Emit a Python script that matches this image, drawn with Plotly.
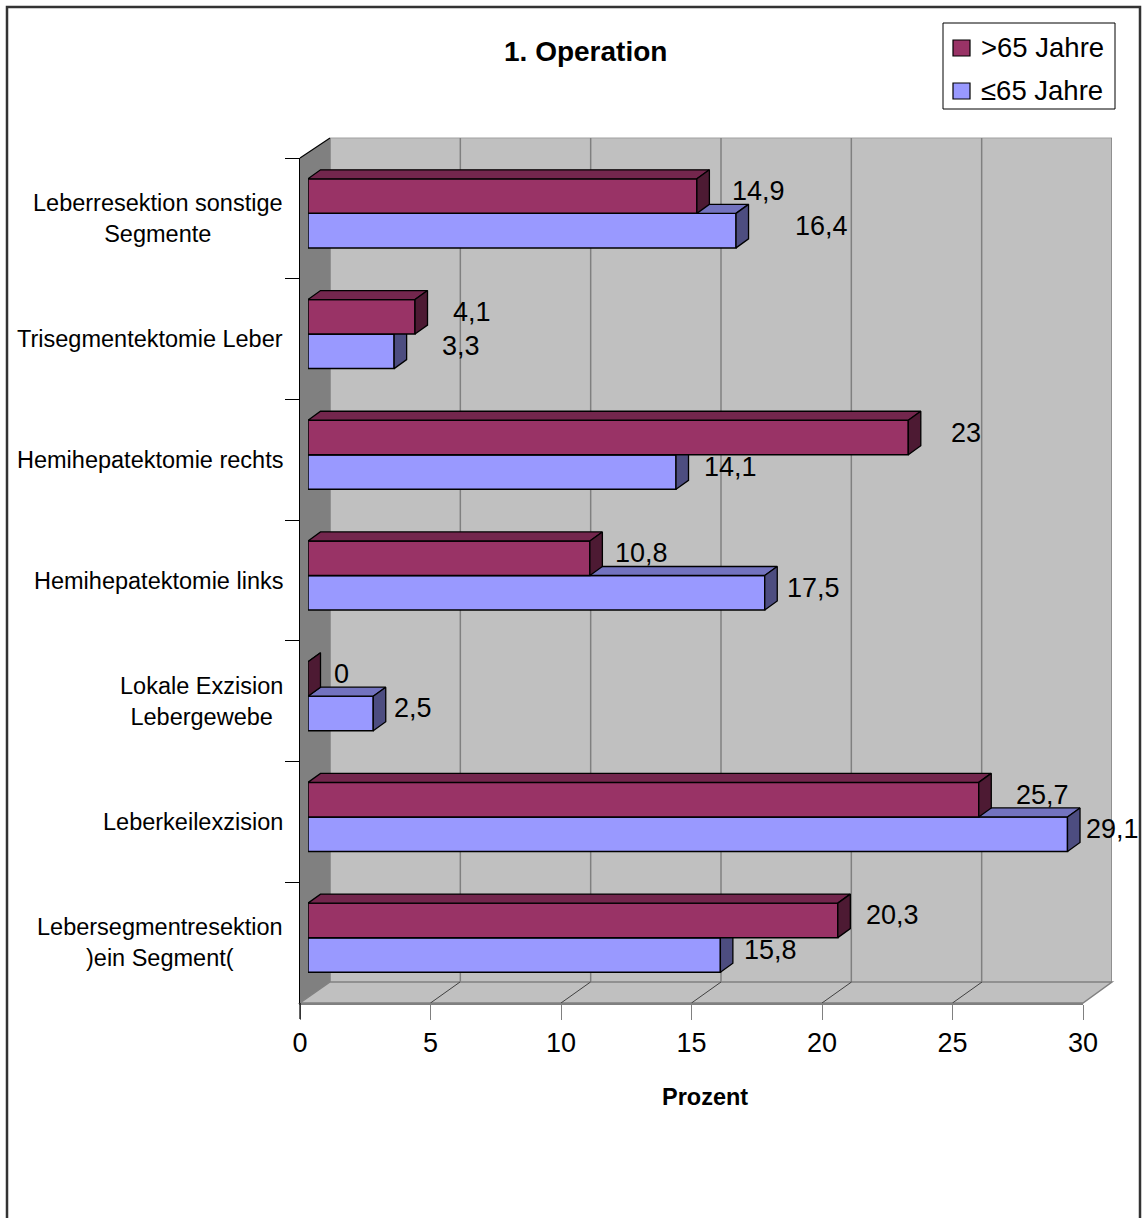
import plotly.graph_objects as go

# ---- data -------------------------------------------------------------
categories = [
    "Leberresektion sonstige<br>Segmente",
    "Trisegmentektomie Leber",
    "Hemihepatektomie rechts",
    "Hemihepatektomie links",
    "Lokale Exzision<br>Lebergewebe",
    "Leberkeilexzision",
    "Lebersegmentresektion<br>)ein Segment(",
]
over_65 = [14.9, 4.1, 23, 10.8, 0, 25.7, 20.3]
upto_65 = [16.4, 3.3, 14.1, 17.5, 2.5, 29.1, 15.8]
series_names = [">65 Jahre", "≤65 Jahre"]
x_ticks = [0, 5, 10, 15, 20, 25, 30]

# label offsets (px right of each bar end)
over_nudge = [33, 36, 41, 23, 24, 35, 26]
upto_nudge = [57, 46, 26, 20, 19, 16, 22]

# ---- styling / geometry ----------------------------------------------
W, H = 1145, 1218
FONT = "Liberation Sans, Arial, sans-serif"
MAROON, MAROON_TOP, MAROON_SIDE = "#993366", "#73264D", "#4D1A33"
LAV, LAV_TOP, LAV_SIDE = "#9999FF", "#7373BF", "#4D4D80"
WALL, WALL_DARK, GRID = "#C0C0C0", "#808080", "#808080"


def fx(p):
    return p / W


def fy(p):
    return 1 - p / H


rows = list(range(len(categories)))
BAR_H = 0.286          # bar thickness in row units
DX = 12.5 / 26.1       # bar depth, horizontal (value units)
DZ = 9 / 120.7         # bar depth, vertical (row units)


def fmt(v):
    return f"{v:g}".replace(".", ",")


def faces(values, upper, axis_x, axis_y, top_col, side_col):
    """Top and side faces of the 3D bars as filled polygons."""
    tx, ty, sx, sy = [], [], [], []
    for i, v in zip(rows, values):
        top = i - BAR_H if upper else i
        bot = i if upper else i + BAR_H
        tx += [0, v, v + DX, DX, 0, None]
        ty += [top, top, top - DZ, top - DZ, top, None]
        sx += [v, v + DX, v + DX, v, v, None]
        sy += [top, top - DZ, bot - DZ, bot, top, None]
    out = []
    for xs, ys, col in ((tx, ty, top_col), (sx, sy, side_col)):
        out.append(go.Scatter(
            x=xs, y=ys, mode="lines", fill="toself", fillcolor=col,
            line=dict(color="black", width=1.3), xaxis=axis_x, yaxis=axis_y,
            hoverinfo="skip", showlegend=False))
    return out


fig = go.Figure()

# invisible trace registering the category axis
fig.add_trace(go.Scatter(x=[0] * len(categories), y=categories, mode="markers",
                         marker=dict(opacity=0), hoverinfo="skip",
                         showlegend=False, xaxis="x", yaxis="y"))

# ≤65 series (drawn first, sits below)
fig.add_trace(go.Bar(y=rows, x=upto_65, orientation="h", base=0,
                     offset=0, width=BAR_H, name=series_names[1],
                     marker=dict(color=LAV, line=dict(color="black", width=1.5)),
                     xaxis="x2", yaxis="y2", showlegend=False))
for tr in faces(upto_65, False, "x2", "y2", LAV_TOP, LAV_SIDE):
    fig.add_trace(tr)

# >65 series on the overlaid axes so it is painted above
fig.add_trace(go.Bar(y=rows, x=over_65, orientation="h", base=0,
                     offset=-BAR_H, width=BAR_H, name=series_names[0],
                     marker=dict(color=MAROON, line=dict(color="black", width=1.5)),
                     xaxis="x4", yaxis="y4", showlegend=False))
for tr in faces(over_65, True, "x4", "y4", MAROON_TOP, MAROON_SIDE):
    fig.add_trace(tr)

# ---- value labels -----------------------------------------------------
ann = []
for i in rows:
    ann.append(dict(x=over_65[i], y=i - BAR_H / 2, xref="x2", yref="y2",
                    text=fmt(over_65[i]), showarrow=False, xanchor="left",
                    yanchor="middle", xshift=over_nudge[i], yshift=5,
                    font=dict(size=27, color="black", family=FONT)))
    ann.append(dict(x=upto_65[i], y=i + BAR_H / 2, xref="x2", yref="y2",
                    text=fmt(upto_65[i]), showarrow=False, xanchor="left",
                    yanchor="middle", xshift=upto_nudge[i], yshift=5,
                    font=dict(size=27, color="black", family=FONT)))

# category labels, centred lines, right edge beside the axis
for i, c in enumerate(categories):
    ann.append(dict(x=fx(285), y=i, xref="paper", yref="y", text=c,
                    showarrow=False, xanchor="right", yanchor="middle",
                    align="center", font=dict(size=23.5, color="black", family=FONT)))

ann.append(dict(x=fx(585), y=fy(52), xref="paper", yref="paper",
                text="<b>1. Operation</b>", showarrow=False,
                xanchor="center", yanchor="middle",
                font=dict(size=28, color="black", family=FONT)))
ann.append(dict(x=fx(705), y=fy(1097), xref="paper", yref="paper",
                text="<b>Prozent</b>", showarrow=False,
                xanchor="center", yanchor="middle",
                font=dict(size=23.5, color="black", family=FONT)))

# legend entries
for name, col, yc in ((series_names[0], MAROON, 48), (series_names[1], LAV, 91)):
    ann.append(dict(x=fx(979), y=fy(yc), xref="paper", yref="paper",
                    text=name, showarrow=False, xanchor="left", yanchor="middle",
                    font=dict(size=27.5, color="black", family=FONT)))

# ---- walls, floor, grid ----------------------------------------------
def path(pts):
    return "M" + " L".join(f"{fx(a)},{fy(b)}" for a, b in pts) + " Z"


shapes = [
    dict(type="rect", xref="paper", yref="paper", x0=fx(330), x1=fx(1112),
         y0=fy(982), y1=fy(138), fillcolor=WALL, line=dict(width=0), layer="below"),
    dict(type="path", xref="paper", yref="paper",
         path=path([(300, 158), (330, 138), (330, 982), (300, 1003)]),
         fillcolor=WALL_DARK, line=dict(width=0), layer="below"),
    dict(type="path", xref="paper", yref="paper",
         path=path([(300, 1003), (330, 982), (1112, 982), (1083, 1003)]),
         fillcolor=WALL, line=dict(color=GRID, width=1.5), layer="below"),
    dict(type="line", xref="paper", yref="paper", x0=fx(330), x1=fx(1112),
         y0=fy(138), y1=fy(138), line=dict(color="#A0A0A0", width=1), layer="below"),
    dict(type="line", xref="paper", yref="paper", x0=fx(300), x1=fx(330),
         y0=fy(158), y1=fy(138), line=dict(color="black", width=1.2), layer="below"),
]
for v in x_ticks:
    shapes.append(dict(type="line", xref="x3", yref="paper", x0=v, x1=v,
                       y0=fy(982), y1=fy(138), line=dict(color=GRID, width=1.5),
                       layer="below"))
for v in x_ticks[1:]:
    shapes.append(dict(type="line", xref="x", xsizemode="pixel", xanchor=v,
                       x0=0, x1=29.5, yref="paper", y0=fy(1003), y1=fy(982),
                       line=dict(color="#404040", width=1), layer="below"))

# value-axis line continues below the floor
shapes.append(dict(type="line", xref="paper", yref="paper", x0=fx(300), x1=fx(300),
                   y0=fy(1019), y1=fy(1003), line=dict(color="black", width=1.2)))

# legend frame and swatches
shapes.append(dict(type="rect", xref="paper", yref="paper", x0=fx(943), x1=fx(1115),
                   y0=fy(109), y1=fy(23), fillcolor="white",
                   line=dict(color="black", width=1)))
for col, yt in ((MAROON, 40), (LAV, 83)):
    shapes.append(dict(type="rect", xref="paper", yref="paper", x0=fx(953), x1=fx(970),
                       y0=fy(yt + 16), y1=fy(yt), fillcolor=col,
                       line=dict(color="black", width=1.2)))

# chart frame
shapes.append(dict(type="rect", xref="paper", yref="paper", x0=fx(7), x1=fx(1140),
                   y0=fy(1230), y1=fy(7), line=dict(color="#333333", width=2.5)))

hidden = dict(visible=False, showgrid=False, zeroline=False, fixedrange=True,
              automargin=False)

fig.update_layout(
    width=W, height=H, autosize=False,
    margin=dict(l=0, r=0, t=0, b=0, pad=0, autoexpand=False),
    paper_bgcolor="white", plot_bgcolor="rgba(0,0,0,0)",
    showlegend=False, barmode="overlay",
    font=dict(family=FONT, color="black"),
    xaxis=dict(domain=[fx(300), fx(1083)], range=[0, 30], anchor="y",
               tickvals=x_ticks, ticktext=[str(t) for t in x_ticks],
               ticks="outside", ticklen=15, tickcolor=GRID, tickwidth=1.2,
               tickfont=dict(size=27, family=FONT, color="black"),
               showline=True, linecolor=GRID, linewidth=1.5, automargin=False,
               showgrid=False, zeroline=False, fixedrange=True),
    yaxis=dict(domain=[fy(1003), fy(158)], type="category",
               categoryarray=categories, range=[6.5, -0.5], anchor="x",
               tickson="boundaries", ticks="outside", ticklen=14,
               tickcolor="black", tickwidth=1.2, showticklabels=False,
               showline=True, linecolor="black", linewidth=1.2, automargin=False,
               showgrid=False, zeroline=False, fixedrange=True),
    xaxis2=dict(domain=[fx(308), fx(1091)], range=[0, 30], anchor="y2", **hidden),
    yaxis2=dict(domain=[fy(998), fy(153)], range=[6.5, -0.5], anchor="x2", **hidden),
    xaxis3=dict(domain=[fx(330), fx(1112)], range=[0, 30], anchor="y", **hidden),
    xaxis4=dict(range=[0, 30], anchor="y4", overlaying="x2", **hidden),
    yaxis4=dict(range=[6.5, -0.5], anchor="x4", overlaying="y2", **hidden),
    annotations=ann,
    shapes=shapes,
)

fig.write_html("out.html", config={"displayModeBar": False, "responsive": False})
